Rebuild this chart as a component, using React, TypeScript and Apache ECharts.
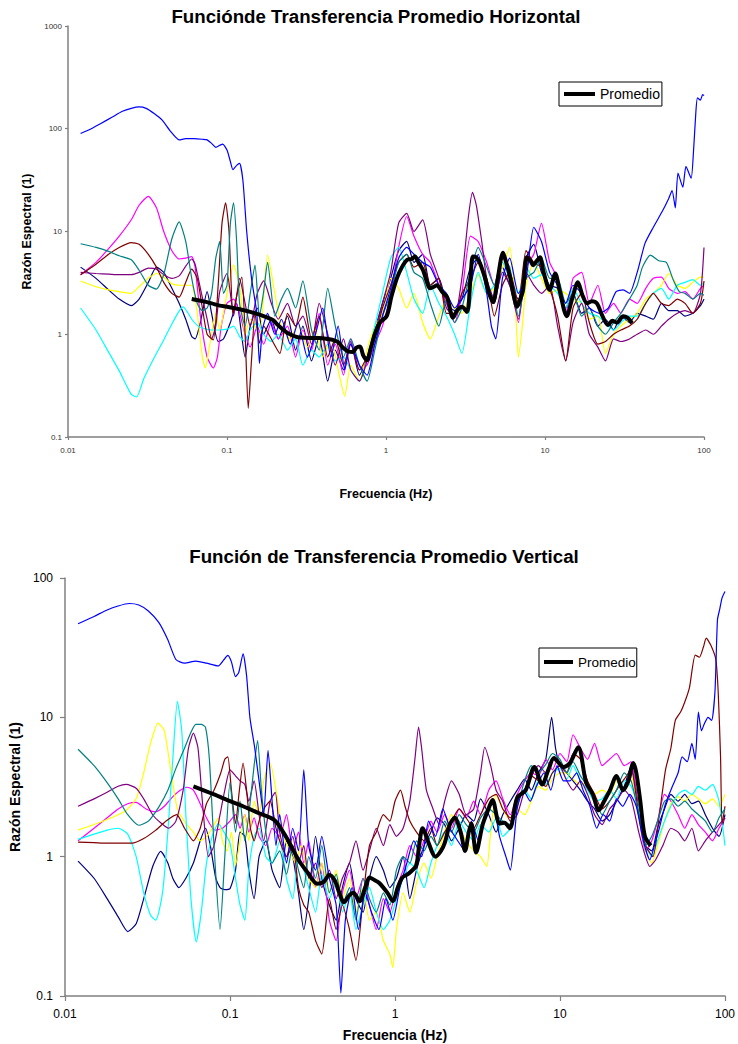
import React, { useEffect, useRef } from "react";
import * as echarts from "echarts";

type P = [number, number][];

const FONT = '"Liberation Sans", Arial, Helvetica, sans-serif';

const COLORS = {
  navy: "#000080",
  magenta: "#FF00FF",
  yellow: "#FFFF00",
  cyan: "#00FFFF",
  purple: "#800080",
  maroon: "#800000",
  teal: "#008080",
  blue: "#0000FF",
};

const TITLE_H = "Funciónde Transferencia Promedio Horizontal";
const TITLE_V = "Función de Transferencia Promedio Vertical";
const X_NAME = "Frecuencia (Hz)";
const Y_NAME = "Razón Espectral (1)";
const LEGEND_NAME = "Promedio";

// ---------- Horizontal (top chart) ----------
const hNavy: P = [[0.012,4.5],[0.015,3.5],[0.018,2.7],[0.021,2.2],[0.025,1.9],[0.028,2.2],[0.032,3.2],[0.036,4.5],[0.04,4.0],[0.045,2.8],[0.05,2.0],[0.055,1.4],[0.06,0.95],[0.063,0.9],[0.068,1.3],[0.075,2.6],[0.08,1.6],[0.088,0.85],[0.095,0.9],[0.105,1.3],[0.115,2.0],[0.13,0.6],[0.14,1.2],[0.155,1.8],[0.17,1.0],[0.19,1.4],[0.21,0.9],[0.24,1.5],[0.27,0.7],[0.3,1.2],[0.34,0.55],[0.38,0.95],[0.43,0.35],[0.48,0.7],[0.54,0.45],[0.6,0.85],[0.68,0.4],[0.76,0.6],[0.85,1.1],[0.95,2.0],[1.07,3.5],[1.2,6.5],[1.35,8.0],[1.5,5.0],[1.7,6.0],[1.9,3.0],[2.15,3.5],[2.4,2.0],[2.7,1.7],[3.0,2.2],[3.4,4.5],[3.8,5.5],[4.3,3.2],[4.8,2.0],[5.4,4.5],[6.0,3.0],[6.8,2.2],[7.6,5.5],[8.5,7.5],[9.5,4.0],[10.7,3.0],[12,2.8],[13.5,1.8],[15,2.5],[17,1.6],[19,1.8],[21.5,1.2],[24,1.4],[27,1.1],[30,1.5],[34,1.3],[38,1.6],[43,1.5],[48,1.4],[54,2.0],[60,1.7],[68,1.7],[76,1.5],[85,1.6],[95,1.9],[100,2.2]];

const hMagenta: P = [[0.012,3.8],[0.015,5.0],[0.018,6.8],[0.021,9.0],[0.025,13],[0.028,18],[0.032,22],[0.036,17],[0.04,10],[0.045,6.5],[0.05,5.4],[0.055,5.5],[0.06,5.7],[0.063,4.5],[0.068,1.5],[0.075,0.6],[0.082,0.47],[0.087,0.6],[0.092,1.2],[0.1,2.0],[0.11,2.2],[0.12,1.6],[0.13,1.0],[0.14,0.75],[0.155,1.2],[0.17,0.8],[0.19,1.3],[0.21,0.9],[0.24,1.2],[0.27,0.6],[0.3,1.1],[0.34,0.7],[0.38,1.6],[0.43,0.5],[0.48,0.8],[0.54,0.4],[0.6,0.9],[0.68,0.45],[0.76,0.5],[0.85,0.8],[0.95,1.2],[1.07,2.5],[1.2,7.0],[1.35,14],[1.5,9.0],[1.7,6.0],[1.9,5.0],[2.15,3.0],[2.4,2.0],[2.7,1.3],[3.0,2.5],[3.4,9.0],[3.8,8.0],[4.3,5.0],[4.8,3.0],[5.4,6.0],[6.0,4.0],[6.8,1.3],[7.6,4.5],[8.5,6.0],[9.5,12],[10.7,5.0],[12,3.5],[13.5,1.6],[15,3.5],[17,4.0],[19,2.0],[21.5,3.0],[24,1.6],[27,2.0],[30,1.6],[34,2.2],[38,2.0],[43,2.8],[48,3.5],[54,3.6],[60,2.8],[68,2.5],[76,2.6],[85,2.2],[95,2.8],[100,3.0]];

const hYellow: P = [[0.012,3.3],[0.015,2.9],[0.018,2.7],[0.021,2.6],[0.025,2.5],[0.028,2.9],[0.032,3.5],[0.036,3.9],[0.04,3.6],[0.045,3.1],[0.05,3.0],[0.055,3.0],[0.06,3.0],[0.065,1.6],[0.07,0.6],[0.073,0.47],[0.078,0.8],[0.085,1.6],[0.09,1.1],[0.1,2.5],[0.11,4.7],[0.12,3.0],[0.13,1.0],[0.14,1.4],[0.16,1.0],[0.18,5.9],[0.2,2.5],[0.22,1.2],[0.25,0.9],[0.28,1.3],[0.32,0.75],[0.36,1.1],[0.4,0.6],[0.45,0.9],[0.5,0.45],[0.55,0.25],[0.6,0.5],[0.68,0.35],[0.76,0.7],[0.85,1.2],[0.95,1.6],[1.07,3.5],[1.2,2.8],[1.35,1.8],[1.5,2.5],[1.7,1.3],[1.9,0.9],[2.15,1.5],[2.4,2.2],[2.7,1.8],[3.0,1.6],[3.4,2.5],[3.8,3.8],[4.3,2.5],[4.8,2.8],[5.4,4.5],[6.0,7.0],[6.5,2.0],[6.8,0.6],[7.2,1.2],[7.6,3.0],[8.5,5.0],[9.5,3.5],[10.7,2.5],[12,2.7],[13.5,2.5],[15,2.2],[17,2.0],[19,1.4],[21.5,1.5],[24,0.65],[27,1.0],[30,1.2],[34,1.4],[38,1.6],[43,2.2],[48,2.5],[54,3.0],[60,3.9],[68,3.0],[76,2.8],[85,3.2],[95,3.6],[100,3.6]];

const hCyan: P = [[0.012,1.8],[0.015,1.1],[0.018,0.67],[0.021,0.44],[0.025,0.26],[0.027,0.245],[0.03,0.37],[0.035,0.6],[0.04,0.88],[0.045,1.26],[0.05,1.68],[0.053,1.85],[0.057,1.6],[0.06,1.4],[0.065,1.22],[0.07,1.15],[0.08,1.1],[0.09,1.1],[0.1,1.12],[0.11,1.2],[0.12,0.95],[0.13,0.85],[0.14,1.1],[0.155,1.3],[0.17,1.0],[0.19,0.85],[0.21,1.0],[0.24,0.7],[0.27,0.9],[0.3,0.5],[0.34,0.7],[0.38,0.6],[0.43,0.8],[0.48,0.55],[0.54,0.6],[0.6,0.45],[0.68,0.35],[0.76,0.55],[0.85,1.2],[0.95,2.5],[1.07,5.5],[1.2,7.0],[1.35,4.0],[1.5,2.2],[1.7,1.6],[1.9,3.0],[2.15,2.0],[2.4,1.5],[2.7,1.0],[3.0,0.65],[3.4,2.0],[3.8,4.0],[4.3,2.5],[4.8,3.0],[5.4,5.0],[6.0,3.5],[6.8,2.5],[7.6,4.5],[8.5,3.5],[9.5,3.8],[10.7,3.0],[12,2.5],[13.5,1.8],[15,2.8],[17,2.0],[19,1.6],[21.5,1.5],[24,1.3],[27,1.1],[30,1.3],[34,1.5],[38,1.5],[43,2.0],[48,2.5],[54,2.8],[60,2.2],[68,3.0],[76,3.2],[85,3.4],[95,3.0],[100,3.2]];

const hPurple: P = [[0.012,4.0],[0.015,3.9],[0.018,3.85],[0.021,3.8],[0.025,3.8],[0.028,4.0],[0.032,4.4],[0.036,4.3],[0.04,3.8],[0.045,3.5],[0.05,3.7],[0.055,4.6],[0.06,5.4],[0.063,4.8],[0.068,2.8],[0.075,1.4],[0.08,0.9],[0.085,1.2],[0.09,2.6],[0.1,3.9],[0.105,2.5],[0.11,1.5],[0.12,3.5],[0.13,2.0],[0.14,1.2],[0.155,2.5],[0.17,3.3],[0.19,2.0],[0.21,1.4],[0.24,2.0],[0.27,1.2],[0.3,1.5],[0.34,0.8],[0.38,2.0],[0.43,1.0],[0.48,0.5],[0.54,0.9],[0.6,0.45],[0.68,0.35],[0.76,0.55],[0.85,1.0],[0.95,2.0],[1.07,4.0],[1.2,12],[1.35,15],[1.5,10],[1.7,13],[1.9,6.0],[2.15,3.5],[2.4,1.8],[2.7,1.5],[3.0,3.5],[3.3,14],[3.5,24],[3.7,18],[4.0,8.0],[4.3,3.5],[4.8,2.2],[5.4,4.0],[6.0,3.0],[6.8,1.4],[7.6,4.0],[8.5,3.0],[9.5,2.5],[10.7,3.0],[12,1.2],[13.5,0.55],[15,1.3],[17,2.0],[19,1.0],[21.5,0.75],[24,0.55],[27,0.9],[30,0.85],[34,0.9],[38,1.0],[43,1.1],[48,1.0],[54,1.2],[60,1.4],[68,1.6],[76,1.7],[85,1.6],[95,2.5],[100,7.0]];

const hMaroon: P = [[0.012,3.8],[0.015,4.8],[0.018,6.0],[0.021,7.0],[0.025,7.8],[0.028,7.5],[0.032,6.0],[0.036,4.5],[0.04,3.2],[0.045,2.5],[0.05,2.3],[0.055,3.2],[0.06,4.3],[0.065,3.5],[0.07,1.8],[0.075,1.0],[0.082,0.88],[0.088,3.0],[0.093,12],[0.098,19],[0.103,10],[0.109,1.6],[0.116,2.5],[0.124,3.6],[0.13,1.0],[0.136,0.19],[0.143,0.6],[0.15,1.6],[0.16,0.82],[0.17,1.2],[0.19,0.9],[0.215,0.65],[0.24,1.6],[0.27,1.2],[0.3,2.3],[0.34,0.9],[0.38,1.5],[0.43,0.6],[0.48,0.9],[0.54,0.5],[0.6,0.8],[0.68,0.45],[0.76,0.6],[0.85,0.9],[0.95,1.8],[1.07,3.0],[1.2,5.0],[1.35,6.0],[1.5,4.5],[1.7,5.0],[1.9,3.0],[2.15,3.5],[2.4,1.6],[2.7,1.6],[3.0,2.5],[3.4,3.5],[3.8,5.0],[4.3,3.5],[4.8,1.5],[5.4,3.0],[6.0,4.0],[6.8,2.0],[7.6,6.5],[8.5,5.0],[9.5,4.5],[10.7,2.8],[12,1.5],[13.5,0.55],[15,1.8],[17,2.5],[19,1.3],[21.5,0.8],[24,0.85],[27,1.0],[30,1.1],[34,1.2],[38,1.4],[43,2.0],[48,2.5],[54,2.0],[60,1.9],[68,2.2],[76,2.0],[85,1.6],[95,2.0],[100,3.3]];

const hTeal: P = [[0.012,7.6],[0.015,7.0],[0.018,6.4],[0.021,5.8],[0.025,5.3],[0.028,4.2],[0.032,3.0],[0.036,2.75],[0.04,3.8],[0.045,8.5],[0.05,12.4],[0.055,8.0],[0.06,3.5],[0.065,2.0],[0.07,1.7],[0.075,1.8],[0.08,2.5],[0.085,5.5],[0.09,8.0],[0.095,2.5],[0.1,3.0],[0.105,12],[0.11,19],[0.115,8.0],[0.12,2.0],[0.13,1.2],[0.14,2.5],[0.15,4.7],[0.16,1.5],[0.17,2.6],[0.18,5.0],[0.2,1.5],[0.22,2.2],[0.24,2.8],[0.27,1.8],[0.3,3.3],[0.34,1.1],[0.38,0.7],[0.43,2.8],[0.48,1.2],[0.54,0.6],[0.6,0.9],[0.68,0.5],[0.76,0.35],[0.85,0.7],[0.95,1.5],[1.07,2.5],[1.2,5.0],[1.35,6.0],[1.5,4.0],[1.7,3.5],[1.9,2.0],[2.15,1.2],[2.4,2.2],[2.7,1.3],[3.0,1.8],[3.4,4.0],[3.8,7.0],[4.3,4.5],[4.8,3.0],[5.4,5.5],[6.0,4.5],[6.8,1.5],[7.6,3.5],[8.5,4.0],[9.5,5.5],[10.7,3.5],[12,3.5],[13.5,2.0],[15,2.5],[17,1.5],[19,1.8],[21.5,1.2],[24,1.0],[27,1.3],[30,1.6],[34,2.2],[38,3.0],[41,4.5],[46,5.9],[52,5.2],[58,5.0],[64,3.4],[70,2.6],[76,2.5],[85,2.2],[95,2.5],[100,2.4]];

const hBlue: P = [[0.012,90],[0.014,100],[0.016,112],[0.019,130],[0.022,148],[0.025,158],[0.028,163],[0.031,158],[0.035,140],[0.039,122],[0.044,95],[0.05,78],[0.055,80],[0.062,80],[0.07,79],[0.075,78],[0.08,72],[0.085,66],[0.09,69],[0.094,71],[0.1,62],[0.105,48],[0.109,40],[0.115,44],[0.12,46],[0.126,31],[0.133,10],[0.143,3.4],[0.154,1.6],[0.16,0.52],[0.167,1.1],[0.18,1.6],[0.2,1.0],[0.22,1.4],[0.25,0.8],[0.28,1.3],[0.32,0.6],[0.36,1.0],[0.4,1.8],[0.45,0.6],[0.5,1.2],[0.55,0.45],[0.6,0.8],[0.68,0.5],[0.76,0.4],[0.85,0.8],[0.95,1.5],[1.07,2.8],[1.2,5.5],[1.35,7.0],[1.5,6.0],[1.7,5.0],[1.9,4.5],[2.15,3.0],[2.4,2.5],[2.7,1.8],[3.0,2.2],[3.4,3.0],[3.8,6.0],[4.3,2.5],[4.6,1.2],[4.9,0.9],[5.4,3.5],[6.0,5.5],[6.8,2.5],[7.6,3.5],[8.5,11],[9.5,8.0],[10.7,4.0],[12,3.0],[13.5,2.0],[15,3.0],[17,2.5],[19,1.8],[22,1.6],[25,1.8],[28,2.6],[31,2.7],[34,2.5],[38,4.0],[42.6,7.7],[48,11],[55,16],[60,21],[63,25],[66,17],[68.6,37],[73.6,27],[77,43],[83,33],[86,62],[89,150],[91,200],[95,190],[98,215],[100,210]];

const hAvg: P = [[0.06,2.2],[0.07,2.1],[0.08,2.0],[0.09,1.9],[0.1,1.85],[0.12,1.75],[0.14,1.65],[0.16,1.55],[0.18,1.45],[0.195,1.37],[0.21,1.22],[0.23,1.08],[0.249,1.0],[0.27,0.95],[0.288,0.93],[0.33,0.92],[0.38,0.92],[0.43,0.9],[0.464,0.88],[0.5,0.84],[0.537,0.74],[0.58,0.68],[0.62,0.67],[0.65,0.74],[0.686,0.76],[0.72,0.62],[0.76,0.56],[0.8,0.72],[0.85,1.0],[0.917,1.3],[1.01,1.5],[1.08,2.3],[1.17,3.5],[1.26,4.5],[1.36,5.3],[1.45,5.4],[1.52,5.7],[1.6,5.0],[1.71,4.2],[1.8,3.3],[1.89,2.8],[2.0,2.9],[2.09,3.0],[2.25,2.6],[2.42,2.3],[2.64,1.45],[2.8,1.7],[3.0,1.85],[3.23,1.65],[3.4,3.5],[3.52,5.7],[3.7,5.6],[3.9,4.9],[4.2,3.5],[4.45,2.5],[4.71,2.05],[5.0,3.2],[5.45,6.2],[5.7,5.0],[6.03,3.6],[6.35,2.4],[6.67,1.85],[7.0,2.2],[7.28,2.7],[7.5,4.5],[7.71,5.6],[8.1,5.2],[8.41,4.7],[8.9,5.2],[9.3,5.6],[9.8,4.0],[10.7,2.7],[11.6,3.9],[12.4,2.6],[13.7,1.5],[14.8,2.2],[16.1,3.2],[17.2,2.4],[18.4,2.0],[19.7,2.1],[21.2,2.0],[23,1.5],[24.9,1.23],[26.5,1.35],[28.4,1.3],[31,1.5],[33,1.45],[35.3,1.28]];

// ---------- Vertical (bottom chart) ----------
const vNavy: P = [[0.012,0.93],[0.015,0.7],[0.018,0.5],[0.021,0.37],[0.024,0.29],[0.027,0.33],[0.03,0.5],[0.034,0.85],[0.038,1.09],[0.042,0.9],[0.045,0.7],[0.049,0.6],[0.054,0.7],[0.06,0.9],[0.066,1.3],[0.071,1.6],[0.076,1.2],[0.082,0.7],[0.087,0.6],[0.093,0.58],[0.1,0.59],[0.108,0.8],[0.115,1.5],[0.123,1.4],[0.13,0.8],[0.14,0.5],[0.15,1.0],[0.165,1.3],[0.18,0.8],[0.2,0.6],[0.22,1.3],[0.24,1.0],[0.26,0.55],[0.28,0.3],[0.3,0.5],[0.33,1.4],[0.36,0.7],[0.4,0.45],[0.44,0.35],[0.48,0.6],[0.53,0.9],[0.58,0.5],[0.64,0.4],[0.7,0.7],[0.77,1.0],[0.85,0.8],[0.93,0.6],[1.02,0.7],[1.12,1.0],[1.23,0.5],[1.35,0.8],[1.5,1.2],[1.65,1.5],[1.8,1.9],[2.0,1.7],[2.2,1.3],[2.45,1.6],[2.7,2.0],[3.0,1.8],[3.3,2.6],[3.7,2.0],[4.1,1.5],[4.5,2.0],[5.0,2.5],[5.5,3.0],[6.1,3.6],[6.7,3.0],[7.4,4.0],[8.2,5.0],[8.9,10],[9.4,6.0],[10,4.5],[11,4.0],[12,3.5],[13.3,3.0],[14.7,2.5],[16.2,2.2],[18,1.8],[20,2.0],[22,2.5],[24.5,3.2],[27,4.5],[30,2.2],[33,1.2],[36,1.1],[39,1.6],[43,2.2],[47,2.8],[52,2.5],[57,2.8],[63,2.4],[69,2.5],[76,2.0],[84,1.6],[92,1.4],[100,2.0]];

const vMagenta: P = [[0.012,1.3],[0.015,1.6],[0.018,1.9],[0.021,2.2],[0.024,2.4],[0.027,2.45],[0.031,2.2],[0.0355,2.1],[0.04,2.3],[0.045,2.7],[0.05,3.0],[0.055,3.15],[0.06,3.0],[0.066,2.4],[0.072,1.9],[0.081,1.55],[0.09,1.6],[0.1,1.8],[0.108,2.0],[0.115,1.6],[0.123,2.0],[0.13,1.5],[0.14,1.9],[0.15,1.4],[0.165,1.2],[0.18,1.6],[0.2,1.4],[0.22,2.0],[0.24,1.1],[0.26,1.5],[0.28,0.9],[0.3,1.3],[0.33,0.6],[0.36,0.9],[0.4,0.35],[0.44,0.25],[0.48,0.55],[0.53,0.8],[0.58,0.5],[0.64,0.7],[0.7,0.45],[0.77,0.3],[0.85,0.5],[0.93,0.4],[1.02,0.6],[1.12,0.8],[1.23,1.2],[1.35,1.0],[1.5,1.3],[1.65,1.8],[1.8,1.5],[2.0,2.0],[2.2,1.6],[2.45,2.2],[2.7,1.9],[3.0,2.5],[3.3,2.0],[3.7,3.0],[4.1,3.5],[4.5,2.6],[5.0,2.0],[5.5,2.8],[6.1,3.5],[6.7,4.0],[7.4,3.8],[8.2,5.0],[9.0,4.2],[10,5.5],[11,4.8],[12,7.5],[13.3,6.0],[14.7,5.0],[16.2,6.5],[18,4.5],[20,5.0],[22,5.5],[24.5,4.5],[27,4.8],[30,2.0],[33,1.1],[36,1.3],[39,1.8],[43,2.8],[47,2.5],[52,2.0],[57,1.6],[63,2.0],[69,1.7],[76,1.5],[84,1.3],[92,1.6],[100,1.9]];

const vYellow: P = [[0.012,1.55],[0.015,1.7],[0.018,1.85],[0.021,2.0],[0.0235,2.15],[0.027,2.6],[0.03,4.0],[0.033,6.5],[0.0366,9.1],[0.04,8.0],[0.044,4.0],[0.048,2.2],[0.054,1.73],[0.06,1.5],[0.066,1.3],[0.072,1.4],[0.078,1.6],[0.085,1.9],[0.09,1.3],[0.096,1.1],[0.102,1.5],[0.108,0.87],[0.115,1.3],[0.123,2.0],[0.13,1.3],[0.14,2.5],[0.15,2.0],[0.16,3.5],[0.175,4.7],[0.19,3.0],[0.21,1.43],[0.23,1.1],[0.25,0.9],[0.27,1.2],[0.3,0.7],[0.33,0.6],[0.36,0.9],[0.4,0.55],[0.44,0.8],[0.48,0.5],[0.53,0.7],[0.58,0.4],[0.64,0.6],[0.7,0.35],[0.77,0.4],[0.85,0.25],[0.93,0.2],[0.97,0.16],[1.02,0.3],[1.12,0.55],[1.23,0.4],[1.35,0.65],[1.5,0.9],[1.65,0.7],[1.8,1.0],[2.0,1.5],[2.2,2.0],[2.45,1.6],[2.7,1.3],[3.0,1.1],[3.3,1.0],[3.6,0.85],[3.8,1.5],[4.1,2.8],[4.5,2.2],[5.0,1.8],[5.5,2.2],[6.1,2.0],[6.7,2.5],[7.4,3.2],[8.2,3.0],[9.0,3.6],[10,4.0],[11,4.0],[12,3.6],[13.3,3.3],[14.7,3.4],[16.2,2.8],[18,3.0],[20,2.8],[22,3.5],[24.5,3.0],[27,3.8],[30,2.0],[33,1.1],[36,0.9],[39,1.2],[43,1.8],[47,2.4],[52,2.7],[57,2.5],[63,2.8],[69,2.6],[76,2.4],[84,2.6],[92,2.3],[100,2.8]];

const vCyan: P = [[0.012,1.33],[0.015,1.45],[0.018,1.55],[0.021,1.6],[0.024,1.45],[0.027,1.0],[0.03,0.55],[0.033,0.38],[0.0355,0.35],[0.039,0.55],[0.042,1.5],[0.045,5.0],[0.048,13],[0.051,8.0],[0.054,2.0],[0.058,0.5],[0.0625,0.245],[0.067,0.4],[0.072,0.9],[0.078,1.4],[0.085,1.73],[0.092,1.5],[0.1,1.25],[0.108,0.7],[0.115,0.45],[0.123,0.35],[0.13,0.8],[0.14,1.4],[0.15,1.6],[0.165,1.0],[0.18,0.9],[0.2,1.3],[0.22,0.7],[0.24,0.5],[0.26,1.0],[0.28,0.8],[0.3,0.6],[0.33,0.4],[0.36,0.75],[0.4,0.5],[0.44,0.65],[0.48,0.4],[0.53,0.55],[0.58,0.3],[0.64,0.45],[0.7,0.6],[0.77,0.4],[0.85,0.3],[0.93,0.35],[1.02,0.5],[1.12,0.7],[1.23,0.9],[1.35,0.8],[1.5,0.6],[1.65,0.9],[1.8,1.2],[2.0,1.5],[2.2,1.2],[2.45,1.8],[2.7,1.5],[3.0,1.3],[3.3,1.7],[3.7,1.5],[4.1,1.9],[4.5,1.4],[5.0,1.6],[5.5,2.5],[6.1,3.0],[6.7,2.6],[7.4,3.5],[8.2,3.3],[9.0,4.0],[10,4.3],[11,3.6],[12,4.5],[13.3,3.5],[14.7,3.0],[16.2,2.5],[18,2.6],[20,3.0],[22,2.6],[24.5,3.5],[27,3.2],[30,2.2],[33,1.2],[36,1.0],[39,1.3],[43,1.8],[47,2.3],[52,2.8],[57,3.0],[63,2.8],[69,3.2],[76,3.0],[84,3.3],[92,2.5],[100,1.2]];

const vPurple: P = [[0.012,2.3],[0.015,2.6],[0.018,2.9],[0.021,3.2],[0.0235,3.3],[0.027,3.1],[0.03,2.6],[0.034,2.0],[0.038,1.75],[0.0425,1.6],[0.047,1.8],[0.052,3.0],[0.056,6.0],[0.06,7.7],[0.064,6.0],[0.068,2.5],[0.074,1.0],[0.08,1.2],[0.087,2.0],[0.093,3.0],[0.1,4.2],[0.108,3.8],[0.115,3.5],[0.123,3.3],[0.13,2.5],[0.14,3.5],[0.15,2.0],[0.16,1.3],[0.175,2.5],[0.188,2.9],[0.2,1.5],[0.22,1.0],[0.24,1.4],[0.26,0.9],[0.28,1.2],[0.3,0.7],[0.33,0.9],[0.36,0.6],[0.4,0.8],[0.44,0.5],[0.48,0.7],[0.53,0.9],[0.58,1.3],[0.64,0.8],[0.7,1.1],[0.77,1.6],[0.85,1.2],[0.93,1.7],[1.02,1.4],[1.12,1.6],[1.23,2.5],[1.32,5.0],[1.39,8.5],[1.45,6.0],[1.55,3.0],[1.7,2.2],[1.85,1.7],[2.0,2.5],[2.2,3.5],[2.45,2.8],[2.7,2.0],[3.0,2.2],[3.3,4.0],[3.5,6.1],[3.8,4.5],[4.1,3.0],[4.5,2.5],[5.0,1.8],[5.5,2.0],[6.1,3.0],[6.7,3.8],[7.4,4.5],[8.2,4.0],[9.0,5.0],[10,4.5],[11,3.5],[12,3.0],[13.3,3.5],[14.7,2.8],[16.2,2.0],[18,1.7],[20,2.2],[22,2.5],[24.5,3.0],[27,2.6],[30,1.5],[33,1.0],[35,0.85],[38,0.95],[42,1.2],[47,1.6],[52,1.5],[57,1.3],[63,1.6],[69,1.1],[76,1.3],[84,1.5],[92,1.7],[100,1.9]];

const vMaroon: P = [[0.012,1.27],[0.015,1.26],[0.018,1.25],[0.021,1.25],[0.0255,1.25],[0.03,1.35],[0.0355,1.55],[0.041,1.8],[0.0475,2.0],[0.053,1.6],[0.06,1.3],[0.066,1.6],[0.072,2.4],[0.08,3.0],[0.088,4.0],[0.093,5.0],[0.097,5.2],[0.102,3.0],[0.108,1.73],[0.114,3.0],[0.12,4.7],[0.126,3.0],[0.133,1.6],[0.14,1.3],[0.15,1.8],[0.16,2.2],[0.175,2.5],[0.19,1.6],[0.2,1.3],[0.22,1.0],[0.24,1.2],[0.26,0.6],[0.28,0.45],[0.3,0.4],[0.33,0.25],[0.36,0.2],[0.4,0.5],[0.44,0.3],[0.48,0.45],[0.53,0.3],[0.58,0.18],[0.64,0.5],[0.7,1.2],[0.77,1.5],[0.85,2.0],[0.93,1.8],[1.0,2.5],[1.08,3.0],[1.15,2.3],[1.23,1.8],[1.35,1.5],[1.5,1.3],[1.65,1.6],[1.8,1.2],[2.0,1.5],[2.2,1.8],[2.45,2.2],[2.7,1.9],[3.0,1.6],[3.3,2.0],[3.7,2.6],[4.1,2.8],[4.5,2.2],[5.0,1.9],[5.5,2.5],[6.1,3.0],[6.7,3.8],[7.4,3.5],[8.2,3.2],[9.0,4.0],[10,4.5],[11,4.0],[12,5.5],[13.3,5.0],[14.7,3.5],[16.2,2.8],[18,2.2],[20,2.5],[22,3.0],[24.5,3.6],[27,4.2],[30,2.0],[33,1.2],[36.6,1.0],[40,2.0],[43.6,4.2],[47,6.0],[50,9.5],[54,11],[58,13.6],[61,16.5],[66,28],[70,27],[74,32],[77,37],[82,33],[88,26],[91,15],[94,5.2],[96,1.7],[100,2.3]];

const vTeal: P = [[0.012,5.9],[0.015,4.5],[0.018,3.4],[0.021,2.6],[0.024,2.0],[0.028,1.68],[0.032,1.8],[0.037,2.27],[0.042,3.0],[0.047,4.3],[0.053,6.0],[0.058,7.8],[0.062,8.9],[0.067,8.9],[0.071,8.5],[0.075,5.0],[0.08,1.2],[0.087,0.3],[0.093,1.0],[0.1,3.4],[0.108,1.5],[0.115,2.5],[0.123,1.3],[0.13,2.0],[0.14,4.5],[0.147,6.8],[0.155,3.0],[0.165,1.5],[0.18,0.9],[0.2,1.1],[0.22,0.75],[0.24,1.2],[0.26,0.8],[0.28,0.6],[0.3,1.0],[0.33,0.7],[0.36,1.2],[0.4,0.55],[0.44,0.75],[0.48,0.45],[0.53,0.6],[0.58,0.35],[0.64,0.7],[0.7,0.5],[0.77,0.4],[0.85,0.55],[0.93,0.45],[1.02,0.8],[1.12,1.0],[1.23,0.9],[1.35,1.3],[1.5,1.1],[1.65,1.4],[1.8,1.2],[2.0,1.8],[2.2,1.5],[2.45,2.0],[2.7,1.7],[3.0,1.5],[3.3,1.9],[3.7,2.2],[4.1,2.0],[4.5,1.8],[5.0,1.7],[5.5,2.3],[6.1,3.5],[6.7,4.5],[7.4,4.0],[8.2,4.6],[9.0,5.5],[10,5.0],[11,4.0],[12,4.8],[13.3,3.8],[14.7,3.2],[16.2,2.6],[18,2.0],[20,2.5],[22,3.0],[24.5,4.0],[27,3.5],[30,2.0],[33,1.2],[36,1.4],[39,1.8],[43,2.5],[47,2.6],[52,2.3],[57,2.5],[63,2.2],[69,2.0],[76,1.8],[84,1.5],[92,1.9],[100,2.2]];

const vBlue: P = [[0.012,47],[0.015,53],[0.018,59],[0.021,63],[0.0245,65.6],[0.028,64],[0.032,58],[0.037,48],[0.042,36],[0.047,26],[0.053,24.5],[0.062,25.3],[0.072,24.5],[0.085,23.4],[0.092,26],[0.097,27.8],[0.102,25],[0.108,19.6],[0.113,21],[0.12,28.6],[0.126,20],[0.132,10],[0.141,6.1],[0.15,3.5],[0.16,2.0],[0.17,5.8],[0.18,2.5],[0.19,1.2],[0.2,2.0],[0.22,0.9],[0.24,1.6],[0.26,1.1],[0.28,4.2],[0.3,1.2],[0.33,0.8],[0.36,1.4],[0.4,0.7],[0.44,0.45],[0.47,0.105],[0.5,0.35],[0.55,0.6],[0.6,0.3],[0.66,0.55],[0.72,0.4],[0.8,0.3],[0.88,0.5],[0.97,0.35],[1.07,0.6],[1.18,0.9],[1.3,1.3],[1.45,1.0],[1.6,1.8],[1.76,1.4],[1.95,2.2],[2.15,1.6],[2.4,1.3],[2.65,1.1],[2.9,1.8],[3.2,1.3],[3.5,2.0],[3.9,2.4],[4.3,1.4],[4.7,1.0],[5.0,0.8],[5.5,2.2],[6.0,3.0],[6.6,2.5],[7.2,3.2],[8.0,4.0],[8.8,3.0],[9.6,4.5],[10.5,3.5],[11.5,3.5],[12.6,4.0],[13.8,3.0],[15.2,2.3],[16.7,1.6],[18.3,2.0],[20,1.8],[22,2.6],[24,2.3],[26.5,2.8],[29,2.3],[32,1.3],[35,0.95],[38,1.3],[40,1.6],[43.6,2.4],[48,3.2],[52,4.0],[55,5.2],[59,4.8],[63,6.5],[66,5.0],[69,10.9],[72,8.0],[75,9.0],[79,10],[83,9.5],[87,15.5],[90,50],[93,60],[96,72],[100,80]];

const vAvg: P = [[0.06,3.2],[0.08,2.8],[0.1,2.5],[0.12,2.3],[0.15,2.05],[0.186,1.83],[0.21,1.5],[0.23,1.25],[0.26,0.95],[0.3,0.75],[0.337,0.64],[0.37,0.66],[0.4,0.74],[0.43,0.68],[0.46,0.55],[0.49,0.47],[0.53,0.53],[0.56,0.55],[0.61,0.48],[0.66,0.6],[0.7,0.71],[0.75,0.68],[0.8,0.65],[0.9,0.55],[0.97,0.48],[1.04,0.6],[1.11,0.71],[1.2,0.75],[1.34,0.86],[1.4,1.2],[1.47,1.6],[1.6,1.25],[1.76,1.0],[1.9,1.1],[2.0,1.25],[2.15,1.7],[2.3,1.9],[2.5,1.5],[2.66,1.1],[2.8,1.5],[2.9,1.73],[3.1,1.07],[3.4,1.7],[3.67,2.17],[3.9,2.55],[4.3,1.73],[4.6,1.75],[4.96,1.6],[5.5,2.65],[6.2,3.0],[7.0,4.4],[7.8,3.3],[8.5,4.2],[9.2,5.1],[10.5,4.4],[11.5,4.7],[12.9,6.1],[14.4,3.4],[15.8,2.8],[17.2,2.15],[18.5,2.5],[20.1,3.0],[22,3.8],[24.1,3.0],[26,3.5],[27.8,4.7],[29,4.0],[30.6,2.55],[32.7,1.4],[35.5,1.2]];

const hSeries: [string, P][] = [
  ["navy", hNavy], ["magenta", hMagenta], ["yellow", hYellow], ["cyan", hCyan],
  ["purple", hPurple], ["maroon", hMaroon], ["teal", hTeal], ["blue", hBlue],
];
const vSeries: [string, P][] = [
  ["navy", vNavy], ["magenta", vMagenta], ["yellow", vYellow], ["cyan", vCyan],
  ["purple", vPurple], ["maroon", vMaroon], ["teal", vTeal], ["blue", vBlue],
];

const fmt = (v: number) => String(Number(v.toPrecision(3)));

function buildOption() {
  const axisCommonX = (gridIndex: number, fs: number, margin: number, tick: number, nameGap: number, nameFs: number, labelColor: string) => ({
    type: "log",
    logBase: 10,
    gridIndex,
    min: 0.01,
    max: 100,
    name: X_NAME,
    nameLocation: "middle",
    nameGap,
    nameTextStyle: { fontSize: nameFs, fontWeight: "bold", color: "#000", fontFamily: FONT },
    axisLine: { show: true, lineStyle: { color: "#808080", width: 1.5 } },
    axisTick: { show: true, length: tick, lineStyle: { color: "#808080", width: 1.2 } },
    minorTick: { show: false },
    splitLine: { show: false },
    axisLabel: { fontSize: fs, color: labelColor, margin, fontFamily: FONT, formatter: fmt },
  });
  const axisCommonY = (gridIndex: number, min: number, max: number, fs: number, margin: number, tick: number, nameGap: number, nameFs: number, labelColor: string) => ({
    type: "log",
    logBase: 10,
    gridIndex,
    min,
    max,
    name: Y_NAME,
    nameLocation: "middle",
    nameRotate: 90,
    nameGap,
    nameTextStyle: { fontSize: nameFs, fontWeight: "bold", color: "#000", fontFamily: FONT },
    axisLine: { show: true, lineStyle: { color: "#808080", width: 1.5 } },
    axisTick: { show: true, length: tick, lineStyle: { color: "#808080", width: 1.2 } },
    minorTick: { show: false },
    splitLine: { show: false },
    axisLabel: { fontSize: fs, color: labelColor, margin, fontFamily: FONT, formatter: fmt },
  });

  const series: any[] = [];
  hSeries.forEach(([c, d], i) => {
    series.push({
      name: "H" + (i + 1), type: "line", xAxisIndex: 0, yAxisIndex: 0, data: d,
      symbol: "none", smooth: 0.2, lineStyle: { color: (COLORS as any)[c], width: 1.2 },
      itemStyle: { color: (COLORS as any)[c] }, z: 2,
    });
  });
  series.push({
    name: LEGEND_NAME, type: "line", xAxisIndex: 0, yAxisIndex: 0, data: hAvg,
    symbol: "none", smooth: 0.3, lineStyle: { color: "#000", width: 4 }, itemStyle: { color: "#000" }, z: 5,
  });
  vSeries.forEach(([c, d], i) => {
    series.push({
      name: "V" + (i + 1), type: "line", xAxisIndex: 1, yAxisIndex: 1, data: d,
      symbol: "none", smooth: 0.2, lineStyle: { color: (COLORS as any)[c], width: 1.2 },
      itemStyle: { color: (COLORS as any)[c] }, z: 2,
    });
  });
  series.push({
    name: LEGEND_NAME, type: "line", xAxisIndex: 1, yAxisIndex: 1, data: vAvg,
    symbol: "none", smooth: 0.3, lineStyle: { color: "#000", width: 4 }, itemStyle: { color: "#000" }, z: 5,
  });

  return {
    animation: false,
    backgroundColor: "#fff",
    textStyle: { fontFamily: FONT },
    graphic: [
      { type: "text", x: 376, y: 16.5, style: { text: TITLE_H, fill: "#000", font: `bold 18.7px ${FONT}`, align: "center", verticalAlign: "middle" } },
      { type: "text", x: 384, y: 556.5, style: { text: TITLE_V, fill: "#000", font: `bold 18.7px ${FONT}`, align: "center", verticalAlign: "middle" } },
    ],
    legend: [
      {
        data: [{ name: LEGEND_NAME, icon: "rect" }], left: 559, top: 82, selectedMode: false,
        itemWidth: 31, itemHeight: 4, padding: [5, 2, 5, 5], borderColor: "#000", borderWidth: 1, backgroundColor: "#fff",
        textStyle: { fontSize: 14, color: "#000", fontFamily: FONT, lineHeight: 14 },
      },
      {
        data: [{ name: LEGEND_NAME, icon: "rect" }], left: 539, top: 648, selectedMode: false,
        itemWidth: 29, itemHeight: 4, padding: [7, 1, 8, 5], borderColor: "#000", borderWidth: 1, backgroundColor: "#fff",
        textStyle: { fontSize: 13.5, color: "#000", fontFamily: FONT, lineHeight: 14 },
      },
    ],
    grid: [
      { left: 68, top: 26, width: 636, height: 411, containLabel: false },
      { left: 65, top: 578, width: 668, height: 418, containLabel: false },
    ],
    xAxis: [
      axisCommonX(0, 8, 9, 3, 50, 12.5, "#333"),
      axisCommonX(1, 12, 12, 5, 32, 14, "#000"),
    ],
    yAxis: [
      axisCommonY(0, 0.1, 1000, 8, 6, 3, 34, 12.5, "#333"),
      axisCommonY(1, 0.1, 100, 12, 12, 5, 41, 14, "#000"),
    ],
    series,
  };
}

export default function App() {
  const ref = useRef<HTMLDivElement>(null);
  useEffect(() => {
    document.body.style.margin = "0";
    if (!ref.current) return;
    const chart = echarts.init(ref.current, undefined, { renderer: "svg" });
    chart.setOption(buildOption() as any);
    return () => chart.dispose();
  }, []);
  return (
    <div
      ref={ref}
      style={{ position: "absolute", left: 0, top: 0, width: 738, height: 1044, background: "#fff" }}
    />
  );
}
